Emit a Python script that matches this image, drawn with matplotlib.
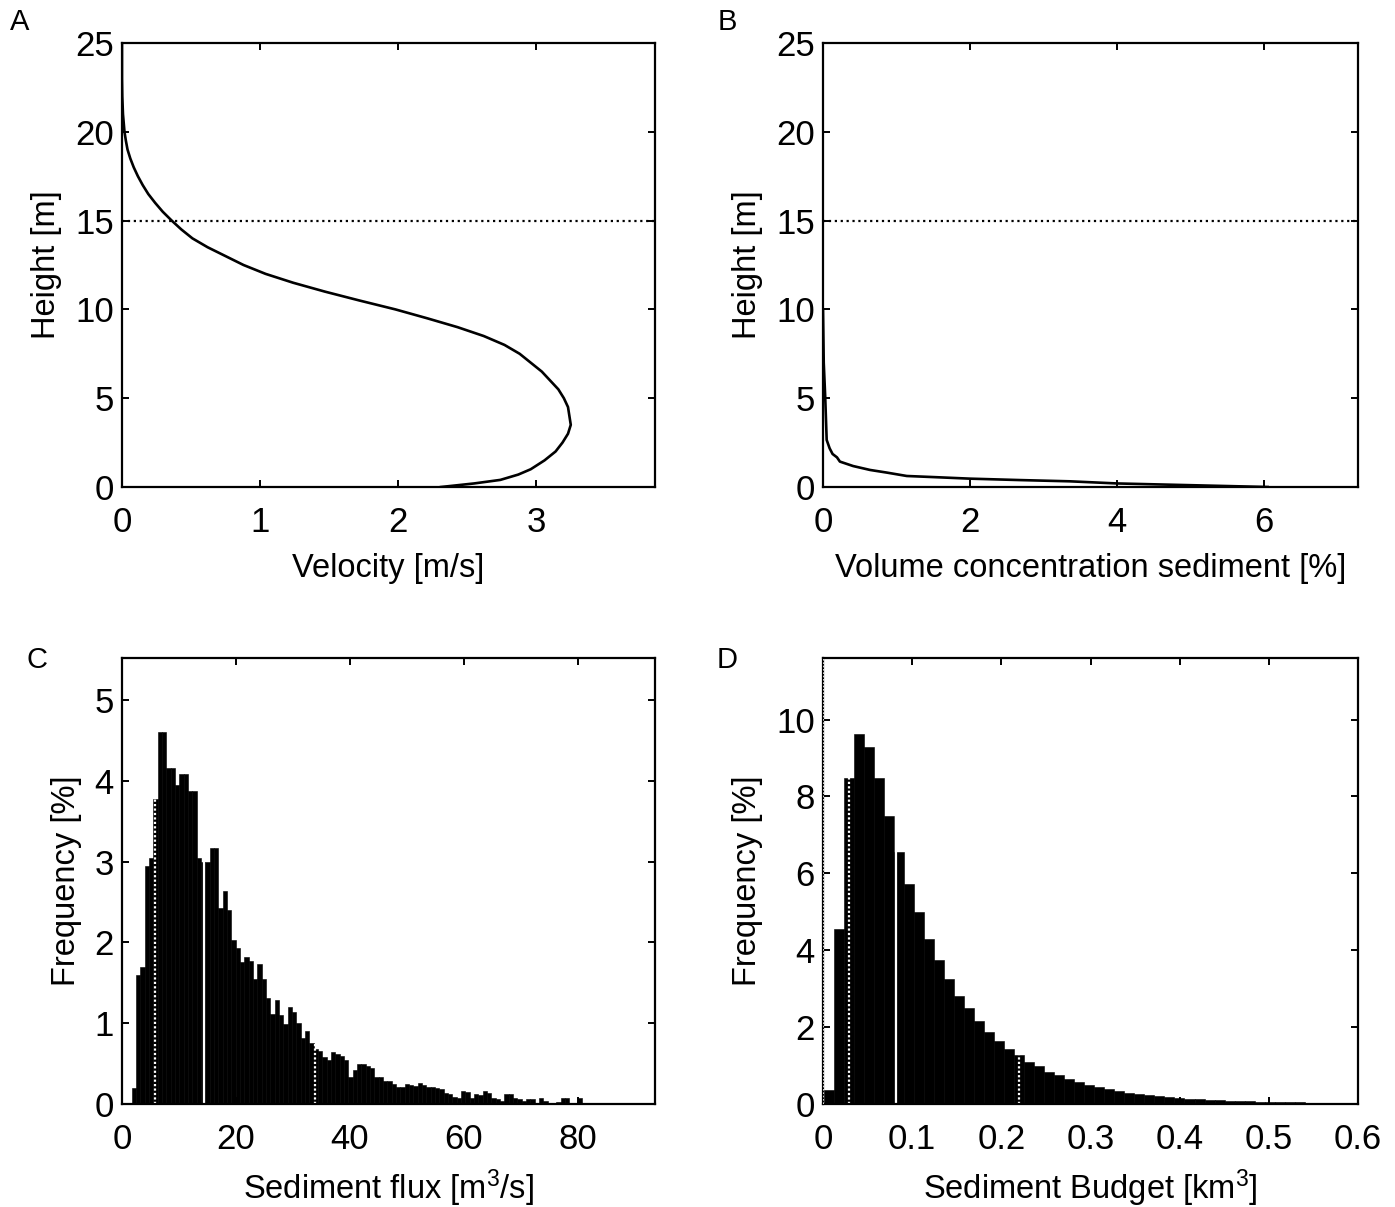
import numpy as np
import matplotlib
matplotlib.use("Agg")
import matplotlib.pyplot as plt
from matplotlib.ticker import FuncFormatter

plt.rcParams['font.family'] = ['Liberation Sans', 'DejaVu Sans']
plt.rcParams['mathtext.fontset'] = 'custom'
plt.rcParams['mathtext.rm'] = 'Liberation Sans'
plt.rcParams['mathtext.it'] = 'Liberation Sans:italic'

# A: velocity profile
vel_height = [0, 0.2, 0.4, 0.7, 1, 1.5, 2, 2.5, 3, 3.5, 4, 4.5, 5, 5.5, 6, 6.5, 7,
              7.5, 8, 8.5, 9, 9.5, 10, 10.5, 11, 11.5, 12, 12.5, 13, 13.5, 14,
              14.5, 15, 15.5, 16, 16.5, 17, 17.5, 18, 18.5, 19, 19.5, 20, 21,
              22, 23, 25]
velocity = [2.31, 2.55, 2.74, 2.87, 2.96, 3.06, 3.14, 3.19, 3.23, 3.25, 3.24,
            3.23, 3.20, 3.16, 3.10, 3.04, 2.96, 2.88, 2.77, 2.62, 2.43, 2.21,
            1.98, 1.72, 1.47, 1.24, 1.04, 0.88, 0.75, 0.62, 0.51, 0.43, 0.36,
            0.295, 0.24, 0.19, 0.15, 0.115, 0.085, 0.06, 0.04, 0.028, 0.018,
            0.007, 0.002, 0.0, 0.0]

# B: sediment concentration profile
conc_height = [0, 0.2, 0.32, 0.39, 0.47, 0.55, 0.62, 0.81, 0.96, 1.18, 1.43, 1.67,
               1.86, 2.18, 2.65, 5.08, 7.0, 10.0]
concentration = [6.05, 4.0, 3.36, 2.68, 2.0, 1.55, 1.14, 0.87, 0.64, 0.41, 0.23, 0.19,
                 0.13, 0.09, 0.05, 0.03, 0.01, 0.0]

# C: sediment flux histogram
flux_bin_start = 1.70
flux_bin_width = 0.76
flux_freq = [0.20, 1.60, 1.69, 2.95, 3.04, 3.77, 4.60, 4.60, 4.16, 4.16,
             3.95, 4.08, 4.08, 3.87, 3.87, 3.04, 2.99, 3.00, 3.17, 3.17,
             2.42, 2.64, 2.40, 2.03, 1.93, 1.76, 1.82, 1.77, 1.55, 1.73,
             1.55, 1.31, 1.11, 1.29, 1.10, 0.99, 1.20, 1.14, 1.00, 0.82,
             0.90, 0.76, 0.68, 0.65, 0.58, 0.54, 0.64, 0.62, 0.59, 0.55,
             0.34, 0.42, 0.50, 0.50, 0.47, 0.44, 0.34, 0.33, 0.29, 0.28,
             0.25, 0.21, 0.21, 0.25, 0.23, 0.22, 0.26, 0.24, 0.21, 0.21,
             0.20, 0.18, 0.13, 0.12, 0.09, 0.08, 0.165, 0.15, 0.08, 0.12,
             0.11, 0.165, 0.14, 0.08, 0.06, 0.04, 0.12, 0.12, 0.07, 0.06,
             0.04, 0.06, 0.06, 0.0, 0.07, 0.04, 0.0, 0.0, 0.03, 0.07,
             0.07, 0.0, 0.0, 0.07]
flux_lines = [5.85, 14.36, 33.9]   # 5th, 50th, 95th percentiles

# D: sediment budget histogram
budget_bin_start = 0.0015
budget_bin_width = 0.01122
budget_freq = [0.36, 4.55, 8.48, 9.63, 9.28, 8.48, 7.49, 6.56, 5.71, 5.00,
               4.30, 3.75, 3.25, 2.82, 2.49, 2.16, 1.86, 1.64, 1.44, 1.27,
               1.08, 0.99, 0.84, 0.75, 0.66, 0.57, 0.50, 0.44, 0.38, 0.34,
               0.29, 0.26, 0.23, 0.20, 0.17, 0.15, 0.13, 0.12, 0.11, 0.10,
               0.09, 0.08, 0.07, 0.06, 0.05, 0.05, 0.04, 0.04, 0.03, 0.03,
               0.02]
budget_lines = [0.0296, 0.0821, 0.2195]

FS = 23.5
TFS = 25

fig = plt.figure(figsize=(13.95, 12.07), dpi=100)
axA = fig.add_axes([122/1395, 1-487/1207, 533/1395, 444/1207])
axB = fig.add_axes([823/1395, 1-487/1207, 535/1395, 444/1207])
axC = fig.add_axes([122/1395, 1-1104/1207, 533/1395, 446/1207])
axD = fig.add_axes([823/1395, 1-1104/1207, 535/1395, 446/1207])

def style(ax):
    for s in ax.spines.values():
        s.set_linewidth(1.6)
    ax.tick_params(direction='in', top=True, right=True, length=5, width=1.4,
                   labelsize=TFS)
    ax.tick_params(axis='x', pad=14)
    ax.tick_params(axis='y', pad=6)

# A
axA.plot(velocity, vel_height, color='k', lw=1.9)
axA.axhline(15, color='k', ls=':', lw=1.6)
axA.set_xlim(0, 3.86)
axA.set_ylim(0, 25)
axA.set_xticks([0, 1, 2, 3])
axA.set_yticks([0, 5, 10, 15, 20, 25])
axA.set_xlabel('Velocity [m/s]', fontsize=FS, labelpad=10)
axA.set_ylabel('Height [m]', fontsize=FS, labelpad=9)
style(axA)

# B
axB.plot(concentration, conc_height, color='k', lw=1.9)
axB.axhline(15, color='k', ls=':', lw=1.6)
axB.set_xlim(0, 7.28)
axB.set_ylim(0, 25)
axB.set_xticks([0, 2, 4, 6])
axB.set_yticks([0, 5, 10, 15, 20, 25])
axB.set_xlabel('Volume concentration sediment [%]', fontsize=FS, labelpad=10)
axB.set_ylabel('Height [m]', fontsize=FS, labelpad=9)
style(axB)

# C
flux_left = flux_bin_start + flux_bin_width * np.arange(len(flux_freq))
axC.bar(flux_left, flux_freq, width=flux_bin_width, align='edge',
        color='k', edgecolor='k', lw=0.4)
for i, xv in enumerate(flux_lines):
    axC.axvline(xv, color='white', lw=1.6, ls='-' if i == 1 else (0, (1, 1)))
axC.set_xlim(0, 93.5)
axC.set_ylim(0, 5.52)
axC.set_xticks([0, 20, 40, 60, 80])
axC.set_yticks([0, 1, 2, 3, 4, 5])
axC.set_xlabel('Sediment flux [m$^3$/s]', fontsize=FS, labelpad=8)
axC.set_ylabel('Frequency [%]', fontsize=FS, labelpad=9)
style(axC)

# D
budget_left = budget_bin_start + budget_bin_width * np.arange(len(budget_freq))
axD.bar(budget_left, budget_freq, width=budget_bin_width, align='edge',
        color='k', edgecolor='k', lw=0.4)
for i, xv in enumerate(budget_lines):
    axD.axvline(xv, color='white', lw=1.6, ls='-' if i == 1 else (0, (1, 1)))
axD.axvline(0.0004, color='white', lw=1.2, ls=(0, (1, 1)), zorder=5)
axD.set_xlim(0, 0.6)
axD.set_ylim(0, 11.6)
axD.set_xticks([0, 0.1, 0.2, 0.3, 0.4, 0.5, 0.6])
axD.set_yticks([0, 2, 4, 6, 8, 10])
axD.xaxis.set_major_formatter(FuncFormatter(lambda v, p: '%g' % v))
axD.set_xlabel('Sediment Budget [km$^3$]', fontsize=FS, labelpad=8)
axD.set_ylabel('Frequency [%]', fontsize=FS, labelpad=9)
style(axD)

for lab, (px, py) in zip('ABCD', [(20, 22), (727, 22), (37, 660), (727, 660)]):
    fig.text(px/1395, 1-py/1207, lab, fontsize=21, ha='center', va='center')

fig.savefig('out.png', dpi=100)
